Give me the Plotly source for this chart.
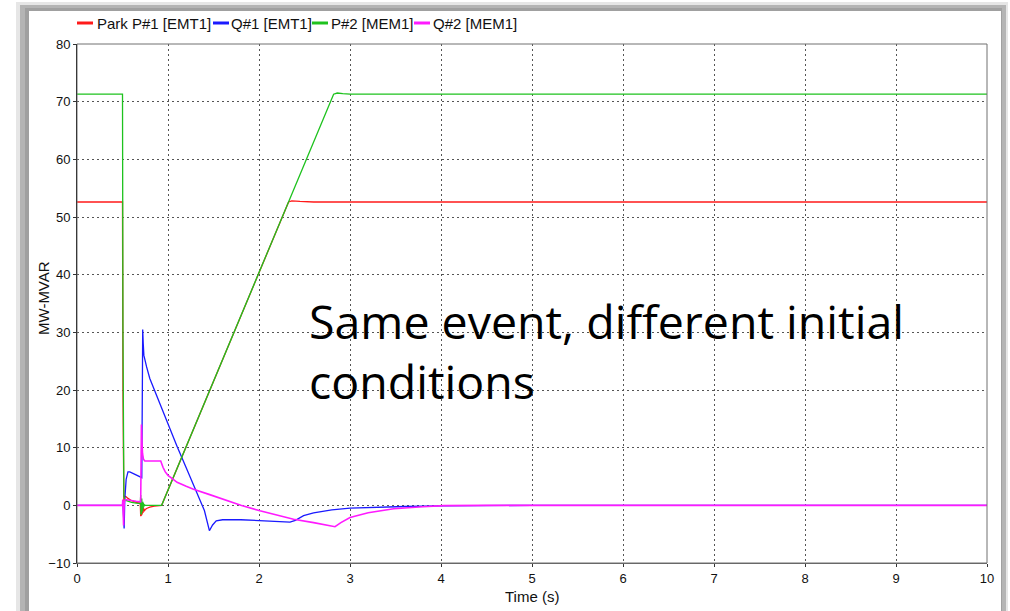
import plotly.graph_objects as go

# ---------------- data ----------------
t_p1 = [0, 0.5, 0.505, 0.515, 0.525, 0.54, 0.56, 0.6, 0.65, 0.695, 0.700, 0.704, 0.708, 0.712, 0.716,
        0.72, 0.725, 0.73, 0.74, 0.75, 0.77, 0.8, 0.85, 0.9, 0.93, 2.325, 2.36, 2.45, 2.6, 10]
v_p1 = [52.6, 52.6, 20, 0.5, 1.6, 1.5, 1.2, 0.8, 0.5, 0.4, -1.9, 0.2, -1.8, 0.0, -1.6,
        -0.2, -1.3, -0.4, -1.0, -0.7, -0.5, -0.3, -0.15, -0.05, 0, 52.6, 52.8, 52.7, 52.6, 52.6]

t_q1 = [0, 0.505, 0.512, 0.518, 0.525, 0.54, 0.56, 0.58, 0.62, 0.66, 0.70, 0.712, 0.718, 0.722, 0.728,
        0.735, 0.75, 0.765, 0.8, 0.9, 1.0, 1.1, 1.2, 1.3, 1.4, 1.455, 1.49, 1.53, 1.6, 1.8, 2.0, 2.2,
        2.34, 2.4, 2.49, 2.6, 2.8, 3.0, 3.3, 3.6, 4.0, 4.5, 5.0, 10]
v_q1 = [0, 0, -2, -4.0, 1.0, 4.5, 5.8, 5.8, 5.5, 5.2, 4.9, 4.8, 20, 30.5, 28,
        26, 24.8, 24.0, 22.0, 18.0, 14.0, 10.2, 6.5, 2.8, -0.9, -4.4, -3.4, -2.7, -2.5, -2.5, -2.6, -2.8,
        -2.9, -2.6, -1.8, -1.3, -0.8, -0.5, -0.3, -0.2, -0.1, -0.03, 0, 0]

t_p2 = [0, 0.500, 0.505, 0.515, 0.53, 0.56, 0.60, 0.65, 0.695, 0.700, 0.703, 0.706, 0.709, 0.712,
        0.715, 0.718, 0.721, 0.724, 0.727, 0.730, 0.735, 0.74, 0.75, 0.78, 0.85, 0.93, 2.82, 2.86,
        2.92, 3.0, 10]
v_p2 = [71.3, 71.3, 30, 1.5, 0.9, 0.7, 0.5, 0.4, 0.3, 1.8, -1.6, 1.5, -1.4, 1.2,
        -1.1, 0.9, -0.8, 0.6, -0.5, 0.4, -0.2, 0.1, 0, 0, 0, 0, 71.3, 71.5,
        71.4, 71.3, 71.3]

t_q2 = [0, 0.5, 0.503, 0.507, 0.512, 0.516, 0.52, 0.53, 0.56, 0.6, 0.65, 0.70, 0.708, 0.714, 0.72,
        0.73, 0.745, 0.8, 0.88, 0.92, 0.945, 0.97, 1.0, 1.1, 1.2, 1.28, 1.45, 1.645, 1.8, 2.01, 2.2,
        2.38, 2.6, 2.835, 2.9, 3.0, 3.2, 3.48, 3.8, 4.03, 4.5, 5.0, 10]
v_q2 = [0, 0, 1.0, -1.5, -3.5, -1.0, 0.6, 1.0, 0.9, 0.8, 0.7, 0.6, 14.0, 11.0, 9.0,
        8.0, 7.7, 7.7, 7.7, 7.7, 6.6, 5.8, 5.2, 4.0, 3.3, 2.8, 1.9, 0.8, 0.0, -0.95, -1.7,
        -2.4, -3.0, -3.7, -3.0, -2.1, -1.3, -0.6, -0.25, -0.05, 0, 0, 0]

series_names = ["Park P#1 [EMT1]", "Q#1 [EMT1]", "P#2 [MEM1]", "Q#2 [MEM1]"]
series_colors = ["#ff1a1a", "#1a1aff", "#1ec21e", "#ff1aff"]
series_widths = [1.3, 1.3, 1.3, 1.6]
x_title = "Time (s)"
y_title = "MW-MVAR"
note_lines = ["Same event, different initial", "conditions"]

# ---------------- figure ----------------
W, H = 1010, 611
L, R, T, B = 77, 23, 44, 48
PW, PH = W - L - R, H - T - B


def px(x):
    return (x - L) / PW


def py(y):
    return (H - B - y) / PH


fig = go.Figure()
for (tt, vv), name, col, lw in zip([(t_p1, v_p1), (t_q1, v_q1), (t_p2, v_p2), (t_q2, v_q2)],
                                   series_names, series_colors, series_widths):
    fig.add_trace(go.Scatter(x=tt, y=vv, mode="lines", name=name,
                             line=dict(color=col, width=lw), showlegend=False))

shapes = []
# window frame
shapes.append(dict(type="rect", xref="paper", yref="paper", x0=px(16), x1=px(1008), y0=py(611), y1=py(2),
                   fillcolor="#e6e6e6", line=dict(width=0), layer="below"))
shapes.append(dict(type="rect", xref="paper", yref="paper", x0=px(20), x1=px(1006), y0=py(611), y1=py(5),
                   fillcolor="#b4b4b4", line=dict(width=0), layer="below"))
shapes.append(dict(type="rect", xref="paper", yref="paper", x0=px(25), x1=px(1002), y0=py(611), y1=py(8),
                   fillcolor="#a0a0a0", line=dict(width=0), layer="below"))
shapes.append(dict(type="rect", xref="paper", yref="paper", x0=px(29), x1=px(1001), y0=py(611), y1=py(11),
                   fillcolor="white", line=dict(width=0), layer="below"))
# plot border top/right
shapes.append(dict(type="rect", xref="paper", yref="paper", x0=0, x1=1, y0=0, y1=1,
                   line=dict(color="#707070", width=1), layer="above"))

annotations = []
# legend
lx = [(77, 96), (213, 230), (312, 329.5), (414, 432)]
for (x0, tx), name, col in zip(lx, series_names, series_colors):
    shapes.append(dict(type="line", xref="paper", yref="paper", x0=px(x0), x1=px(x0 + 16),
                       y0=py(23), y1=py(23), line=dict(color=col, width=3)))
    annotations.append(dict(x=px(tx), y=py(23), xref="paper", yref="paper", text=name,
                            showarrow=False, xanchor="left", yanchor="middle", borderpad=0,
                            font=dict(family="Liberation Sans, Arial", size=15, color="#111")))

# y title
annotations.append(dict(x=px(43), y=py(298), xref="paper", yref="paper", text=y_title, textangle=-90,
                        showarrow=False, xanchor="center", yanchor="middle",
                        font=dict(family="Liberation Sans, Arial", size=15, color="#111")))
# x title
annotations.append(dict(x=px(532), y=py(596), xref="paper", yref="paper", text=x_title,
                        showarrow=False, xanchor="center", yanchor="middle",
                        font=dict(family="Liberation Sans, Arial", size=15, color="#111")))
# note
annotations.append(dict(x=px(308), y=py(351), xref="paper", yref="paper", text="<br>".join(note_lines),
                        showarrow=False, xanchor="left", yanchor="middle", align="left", borderpad=0,
                        font=dict(family="Open Sans", size=46.5, color="black")))

fig.update_layout(
    width=W, height=H, autosize=False,
    margin=dict(l=L, r=R, t=T, b=B, pad=0),
    paper_bgcolor="white", plot_bgcolor="rgba(0,0,0,0)",
    shapes=shapes, annotations=annotations,
    font=dict(family="Liberation Sans, Arial", size=13, color="#111"),
)
fig.update_xaxes(range=[0, 10], dtick=1, tick0=0, showgrid=True, gridcolor="#555", griddash="2px,3px",
                 gridwidth=1, zeroline=False, showline=True, linecolor="#606060", linewidth=1,
                 ticks="outside", ticklen=3, tickcolor="#333", automargin=False,
                 tickfont=dict(size=13))
fig.update_yaxes(range=[-10, 80], dtick=10, tick0=0, showgrid=True, gridcolor="#555", griddash="2px,3px",
                 gridwidth=1, zeroline=False, showline=True, linecolor="black", linewidth=1,
                 ticks="outside", ticklen=3, tickcolor="#333", tickfont=dict(size=13), automargin=False)

fig.write_html("out.html")
